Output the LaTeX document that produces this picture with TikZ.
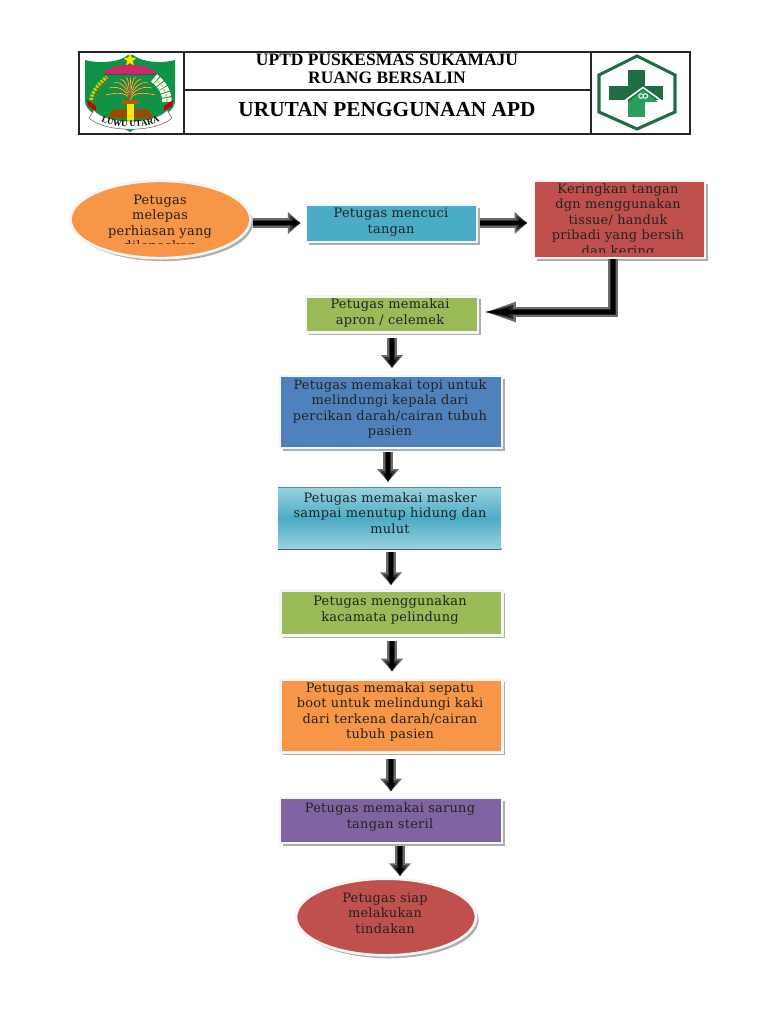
\documentclass[tikz,border=0pt]{standalone}
\usepackage{fontspec}
\setmainfont{Liberation Serif}
\newfontfamily\bodyfont{DejaVu Serif}[LetterSpace=2]
\usetikzlibrary{arrows.meta,decorations.text,calc,shapes.geometric}
\definecolor{cgreen}{HTML}{9BBB59}
\definecolor{cteal}{HTML}{4BACC6}
\definecolor{cred}{HTML}{C0504D}
\definecolor{cblue}{HTML}{4F81BD}
\definecolor{corange}{HTML}{F79646}
\definecolor{cpurple}{HTML}{8064A2}
\definecolor{lgreen}{HTML}{0F9347}
\definecolor{hgreen}{HTML}{1F6E43}
\definecolor{ink}{HTML}{222222}
\tikzset{
  x=0.75pt,y=-0.75pt,
  hdr/.style={draw=black!85,line width=0.8pt,fill=white},
  shadowed/.style={draw=white!96!black,line width=2pt,
    preaction={draw=none,fill=black!32,transform canvas={shift={(2pt,-2.2pt)}}}},
  boxa/.style={shadowed,rectangle,inner sep=0pt,anchor=north west},
  ell/.style={shadowed,ellipse,inner sep=0pt},
  lbl/.style={font=\bodyfont\fontsize{9.7pt}{11.65pt}\selectfont,text=ink,align=center,inner sep=0pt},
  fat/.style={draw=black!58,line width=7.6pt,line cap=butt,
    -{Triangle[length=9.5pt,width=16pt,fill=black!68]},
    postaction={draw=black!80,line width=5pt,-{Triangle[length=8pt,width=11pt,fill=black!80]}},
    postaction={draw=black,line width=2.6pt,-{Triangle[length=6pt,width=6pt]}}},
  slim/.style={draw=black!58,line width=6.8pt,line cap=butt,
    -{Triangle[length=25pt,width=13pt,fill=black!72]},
    postaction={draw=black!85,line width=4.4pt,-{Triangle[length=23pt,width=9pt]}},
    postaction={draw=black,line width=2.4pt,-{Triangle[length=20pt,width=5pt]}}},
  hdrtxt/.style={font=\bfseries\fontsize{13.1pt}{15pt}\selectfont,inner sep=0pt,align=center},
}
\begin{document}
\begin{tikzpicture}
\useasboundingbox[fill=white] (0,0) rectangle (768,1024);

% header table
\draw[hdr] (79,52) rectangle (690,134);
\coordinate (v1t) at (184,52); \coordinate (v1b) at (184,134);
\coordinate (v2t) at (591,52); \coordinate (v2b) at (591,134);
\coordinate (hl) at (184,90); \coordinate (hr) at (591,90);
\draw[draw=black!85,line width=0.8pt] (v1t)--(v1b) (v2t)--(v2b) (hl)--(hr);
\node[hdrtxt] (h1) at (387,60) {UPTD PUSKESMAS SUKAMAJU};
\node[hdrtxt] (h2) at (387,78) {RUANG BERSALIN};
\node[hdrtxt,font=\bfseries\fontsize{16pt}{18pt}\selectfont] (h3) at (387,110) {URUTAN PENGGUNAAN APD};

% left emblem
\fill[lgreen] (85,60) .. controls (100,64) and (120,62) .. (128,55) -- (133,55)
  .. controls (142,62) and (160,64) .. (175,60) -- (175,100)
  .. controls (175,116) and (150,120) .. (130,132)
  .. controls (110,120) and (85,116) .. (85,100) -- cycle;
\node[star,star points=5,star point ratio=2.2,fill=yellow!85!orange,inner sep=0pt,minimum size=10pt] (lstar) at (130,60) {};
\fill[magenta!70!red!85!black] (103,74) .. controls (110,62) and (150,62) .. (157,74) -- cycle;
\fill[black!70] (104,74) rectangle (156,75.5);
% rice and cotton
\draw[yellow!70!olive,line width=2.6pt,dash pattern=on 1.6pt off 1pt] (91,100) .. controls (92,92) and (98,84) .. (107,77);
\draw[olive!80!black,line width=1pt] (95,102) .. controls (96,92) and (101,86) .. (109,80);
\draw[white,line width=7pt,dash pattern=on 3pt off .8pt] (167,102) .. controls (167,92) and (162,84) .. (154,78);
\draw[yellow!60!olive,line width=1pt,dash pattern=on 2pt off 2pt] (167,102) .. controls (167,92) and (162,84) .. (154,78);
% palm
\foreach \a/\b in {106/95,109/88,114/83,120/80,126/78,131/78,136/78,142/80,148/83,152/88,155/95}{
  \draw[black!65,line width=1.3pt] (130,103) .. controls (130,92) and ({(\a+130)/2},{\b-3}) .. (\a,\b);
  \draw[yellow!70!orange,line width=.5pt] (130,103) .. controls (130,92) and ({(\a+130)/2},{\b-3}) .. (\a,\b);
}
\fill[orange!70!black] (122,100) rectangle (139,104);
\fill[orange!60!black] (113,109) -- (148,109) -- (153,118) -- (108,118) -- cycle;
\fill[yellow!90!orange] (127,104) rectangle (134,123);
% ribbon
\fill[red!80!black] (87,100) -- (96,106) -- (96,111) -- (88,106) -- cycle;
\fill[red!80!black] (173,100) -- (164,106) -- (164,111) -- (172,106) -- cycle;
\fill[white] (94,110) .. controls (106,125) and (154,125) .. (167,110) -- (172,118)
  .. controls (156,133) and (105,133) .. (89,118) -- cycle;
\draw[black!60,line width=.4pt] (94,110) .. controls (106,125) and (154,125) .. (167,110) -- (172,118)
  .. controls (156,133) and (105,133) .. (89,118) -- cycle;
\path[postaction={decorate,decoration={text along path,text align=center,
  text={|\fontsize{6.5pt}{6.5pt}\selectfont\bfseries|LUWU UTARA}}}]
  (95,117) .. controls (108,130) and (152,130) .. (166,117);

% right emblem
\draw[hgreen,line width=2.3pt,line join=miter] (637,56) -- (675,75) -- (675,112) -- (637,129) -- (599,112) -- (599,75) -- cycle;
\fill[hgreen] (628,70) rectangle (645,102);
\fill[hgreen] (609,86) rectangle (663,100);
\fill[lgreen!90!white] (628,102) rectangle (645,117);
\fill[lgreen!90!white] (628,102) -- (643,90) -- (658,102) -- cycle;
\draw[white,line width=1.2pt] (623,102) -- (643,87.5) -- (663,102);
\draw[white,line width=.7pt] (641,96) circle (2.3) (645.5,96) circle (2.3);

% flow nodes
\node[ell,fill=corange,minimum width=135pt,minimum height=58pt] (n1) at (160.5,219.5) {};
\node[boxa,fill=cteal,minimum width=128.25pt,minimum height=27.75pt] (n2) at (304.5,203.5) {};
\node[boxa,fill=cred,minimum width=128.25pt,minimum height=57.75pt] (n3) at (532.5,179.5) {};
\node[boxa,fill=cgreen,minimum width=129pt,minimum height=27pt] (n4) at (304.5,295) {};
\node[boxa,fill=cblue,minimum width=166.5pt,minimum height=54pt] (n5) at (278.5,374.5) {};
\fill[black!30] (279,548) rectangle (502,550);
\node[rectangle,inner sep=0pt,anchor=north west,minimum width=167pt,minimum height=46.5pt,
  top color=cteal!55!white,bottom color=cteal!55!white,middle color=cteal,draw=none] (n6) at (278,487) {};
\draw[draw=cteal!85!black,line width=.7pt] (n6.north west) -- (n6.north east);
\draw[draw=cteal!60!black,line width=1.2pt] (n6.south west) -- (n6.south east);
\node[boxa,fill=cgreen,minimum width=166.5pt,minimum height=33.75pt] (n7) at (279,589) {};
\node[boxa,fill=corange,minimum width=166.5pt,minimum height=54.75pt] (n8) at (279,678) {};
\node[boxa,fill=cpurple,minimum width=166.5pt,minimum height=33.75pt] (n9) at (278.5,796.5) {};
\node[ell,fill=cred,minimum width=135pt,minimum height=57.5pt] (n10) at (386,917) {};

% labels
\begin{scope}
  \clip (90,185) rectangle (235,243);
  \node[lbl] (t1) at (160,224) {Petugas\\melepas\\perhiasan yang\\dilepaskan};
\end{scope}
\node[lbl] (t2) at (391,222) {Petugas mencuci\\tangan};
\begin{scope}
  \clip (533,181) rectangle (703,252);
  \node[lbl,anchor=north] (t3) at (618,183) {Keringkan tangan\\dgn menggunakan\\tissue/ handuk\\pribadi yang bersih\\dan kering};
\end{scope}
\node[lbl] (t4) at (390,313) {Petugas memakai\\apron / celemek};
\node[lbl] (t5) at (390,409) {Petugas memakai topi untuk\\melindungi kepala dari\\percikan darah/cairan tubuh\\pasien};
\node[lbl] (t6) at (390,513) {Petugas memakai masker\\sampai menutup hidung dan\\mulut};
\node[lbl] (t7) at (390,610) {Petugas menggunakan\\kacamata pelindung};
\node[lbl] (t8) at (390,712) {Petugas memakai sepatu\\boot untuk melindungi kaki\\dari terkena darah/cairan\\tubuh pasien};
\node[lbl] (t9) at (390,817) {Petugas memakai sarung\\tangan steril};
\node[lbl] (t10) at (385,913) {Petugas siap\\melakukan\\tindakan};

% connectors
\coordinate (x4) at (392,0); \coordinate (x5) at (388,0); \coordinate (x6) at (391,0);
\coordinate (x7) at (392,0); \coordinate (x8) at (391,0); \coordinate (x9) at (400,0);
\coordinate (elbow) at (613,312);
\draw[fat,shorten <=1pt,shorten >=3pt] (n1.east |- 0,223) -- (n2.west |- 0,223);
\draw[fat,shorten <=1pt,shorten >=4pt] (n2.east |- 0,223) -- (n3.west |- 0,223);
\draw[slim,line join=miter,shorten >=2.5pt] (n3.south -| elbow) -- (elbow) -- (n4.east |- elbow);
\draw[fat,shorten <=3pt,shorten >=5pt] (n4.south -| x4) -- (n5.north -| x4);
\draw[fat,shorten <=2pt,shorten >=4pt] (n5.south -| x5) -- (n6.north -| x5);
\draw[fat,shorten <=2pt,shorten >=3pt] (n6.south -| x6) -- (n7.north -| x6);
\draw[fat,shorten <=3pt,shorten >=5pt] (n7.south -| x7) -- (n8.north -| x7);
\draw[fat,shorten <=4pt,shorten >=4pt] (n8.south -| x8) -- (n9.north -| x8);
\draw[fat,shorten <=1pt,shorten >=1pt] (n9.south -| x9) -- (n10.north -| x9);
\end{tikzpicture}
\end{document}
